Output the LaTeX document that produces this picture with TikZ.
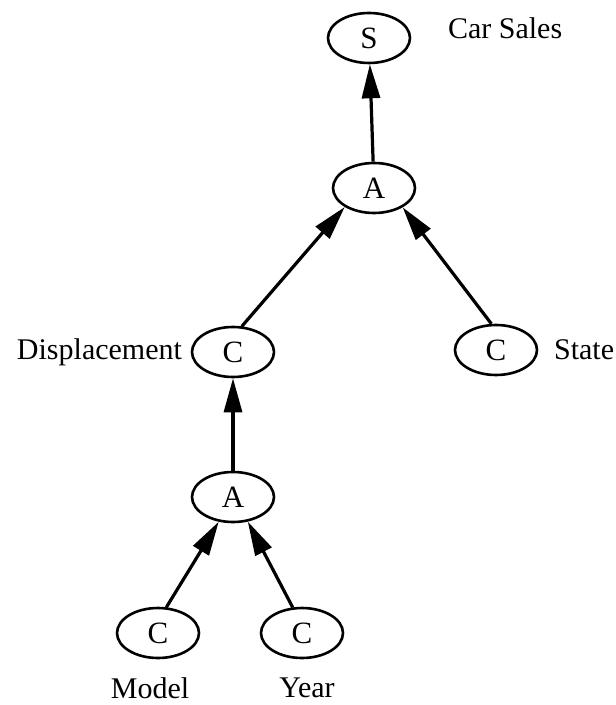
\documentclass[tikz,border=0pt]{standalone}
\usepackage{fontspec}
\setmainfont{Liberation Serif}
\usetikzlibrary{arrows.meta,shapes.geometric}
\tikzset {
  >={Triangle[length=17pt,width=9pt]},
  every node/.style={font=\fontsize{15}{18}\selectfont},
  op/.style={ellipse,draw,line width=1.3pt,minimum width=41pt,minimum height=25pt,
    inner sep=0pt,font=\fontsize{15.5}{17}\selectfont},
  link/.style={->,line width=1.6pt},
}

\begin{document}
\begin{tikzpicture}[x=0.5pt,y=-0.5pt]
  \useasboundingbox (0,0) rectangle (615,705);
  % nodes
  \node[op] (sales) at (369,38) {S};
  \node[op] (atop) at (374,188) {A};
  \node[op] (disp) at (233,352) {C};
  \node[op] (state) at (496,350) {C};
  \node[op] (alow) at (233,497) {A};
  \node[op] (model) at (158,633) {C};
  \node[op] (year) at (302,633) {C};
  % labels
  \node[right] (lsales) at (441,28) {Car Sales};
  \node[left] (ldisp) at (189,352) {Displacement};
  \node[right] (lstate) at (547,350) {State};
  \node (lmodel) at (150,688) {Model};
  \node (lyear) at (307,688) {Year};
  % connectors
  \draw[link] (atop) -- (sales);
  \draw[link] (disp.71) -- (atop.213);
  \draw[link] (state.100) -- (atop.326);
  \draw[link] (alow) -- (disp);
  \draw[link] (model.72) -- (alow.240);
  \draw[link] (year.110) -- (alow.301);
\end{tikzpicture}
\end{document}
